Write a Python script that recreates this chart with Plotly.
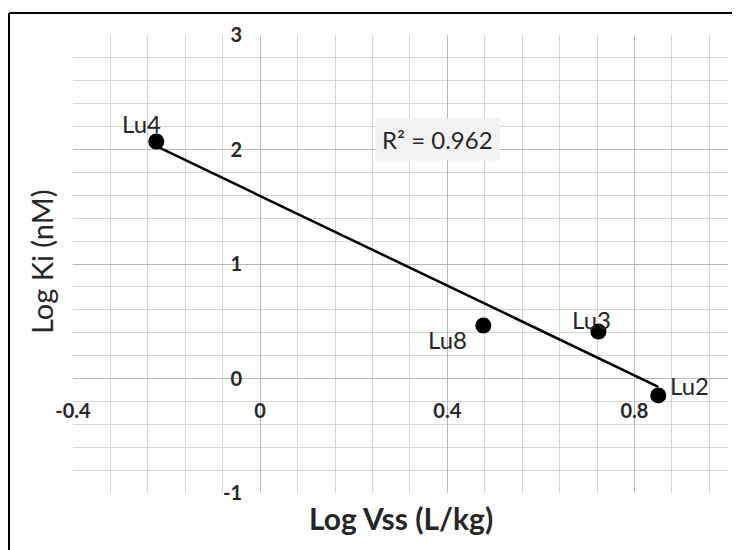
import numpy as np
import plotly.graph_objects as go

# Data
labels = ["Lu4", "Lu8", "Lu3", "Lu2"]
log_vss = [-0.222, 0.477, 0.723, 0.851]
log_ki = [2.07, 0.463, 0.41, -0.148]
r2_text = "R² = 0.962"

x_ticks = [-0.4, 0, 0.4, 0.8]
x_tick_text = ["-0.4", "0", "0.4", "0.8"]
y_ticks = [-1, 0, 1, 2, 3]
y_tick_text = ["-1", "0", "1", "2", "3"]

# Linear trendline
slope, intercept = np.polyfit(log_vss, log_ki, 1)
xs = np.array([min(log_vss), max(log_vss)])
ys = slope * xs + intercept

W, H = 740, 550
OFF = 8  # page body margin
ml, mt = 73 - OFF, 35 - OFF
pw, ph = 655, 458
mr = W - ml - pw
mb = H - mt - ph
xr = [-0.4, 1.0]
yr = [-1, 3]
x0_paper = (0 - xr[0]) / (xr[1] - xr[0])
y0_paper = (0 - yr[0]) / (yr[1] - yr[0])


def px_x(p):
    return (p - OFF - ml) / pw


def px_y(p):
    return (mt + ph - (p - OFF)) / ph


font_family = "Lato, 'Open Sans', sans-serif"
txt_color = "#262626"

fig = go.Figure()
fig.add_trace(go.Scatter(x=xs, y=ys, mode="lines",
                         line=dict(color="black", width=2.5),
                         hoverinfo="skip", showlegend=False))
fig.add_trace(go.Scatter(x=log_vss, y=log_ki, mode="markers",
                         marker=dict(color="black", size=16),
                         showlegend=False))

# point labels (offsets in pixels)
offsets = {"Lu4": (-15, 18), "Lu8": (-36, -14), "Lu3": (-7, 12), "Lu2": (31, 10)}
for lab, xv, yv in zip(labels, log_vss, log_ki):
    dx, dy = offsets[lab]
    fig.add_annotation(x=xv, y=yv, text=lab, showarrow=False,
                       xshift=dx, yshift=dy,
                       xanchor="center", yanchor="middle",
                       font=dict(family=font_family, size=24, color=txt_color))

fig.add_annotation(x=0.379, y=2.09, text=r2_text, showarrow=False,
                   xanchor="center", yanchor="middle",
                   bgcolor="#f2f2f2", borderpad=6,
                   font=dict(family=font_family, size=24, color=txt_color))

# axis titles
fig.add_annotation(xref="paper", yref="paper",
                   x=px_x(401), y=px_y(518),
                   xanchor="center", yanchor="middle",
                   text="<b>Log Vss (L/kg)</b>", showarrow=False,
                   font=dict(family=font_family, size=30, color=txt_color))
fig.add_annotation(xref="paper", yref="paper",
                   x=px_x(41), y=px_y(262),
                   xanchor="center", yanchor="middle",
                   text="Log Ki (nM)", textangle=-90, showarrow=False,
                   font=dict(family=font_family, size=29, color=txt_color))

# outer frame (top and left edges)
fx0 = px_x(9)
fy1 = px_y(13)
fig.add_shape(type="line", xref="paper", yref="paper",
              x0=fx0, x1=px_x(760), y0=fy1, y1=fy1,
              line=dict(color="black", width=2))
fig.add_shape(type="line", xref="paper", yref="paper",
              x0=fx0, x1=fx0, y0=fy1, y1=px_y(570),
              line=dict(color="black", width=2))

fig.update_layout(
    width=W, height=H,
    margin=dict(l=ml, r=mr, t=mt, b=mb, autoexpand=False),
    paper_bgcolor="white", plot_bgcolor="white",
    font=dict(family=font_family, color=txt_color),
    xaxis=dict(range=xr, tickvals=x_ticks, ticktext=x_tick_text,
               anchor="free", position=y0_paper, automargin=False,
               showgrid=True, gridcolor="#b8b8b8", gridwidth=1.3,
               minor=dict(dtick=0.08, tick0=-0.4, showgrid=True,
                          gridcolor="#d6d6d6", gridwidth=1.3),
               zeroline=False, showline=False, ticks="",
               ticklabelstandoff=18,
               tickfont=dict(family=font_family, size=20, color=txt_color, weight="bold")),
    yaxis=dict(range=yr, tickvals=y_ticks, ticktext=y_tick_text,
               anchor="free", position=x0_paper, automargin=False,
               showgrid=True, gridcolor="#b8b8b8", gridwidth=1.3,
               minor=dict(dtick=0.2, tick0=-1, showgrid=True,
                          gridcolor="#d6d6d6", gridwidth=1.3),
               zeroline=False, showline=False, ticks="",
               ticklabelstandoff=18,
               tickfont=dict(family=font_family, size=20, color=txt_color, weight="bold")),
)

fig.write_html("out.html")
